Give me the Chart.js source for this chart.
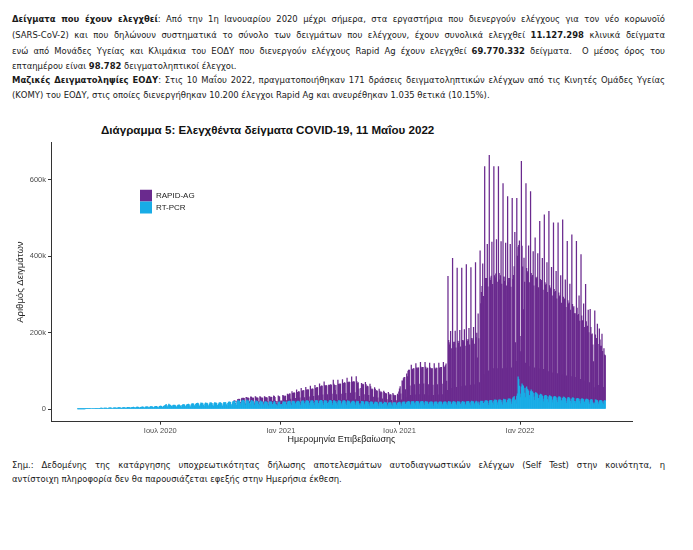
<!DOCTYPE html>
<html>
<head>
<meta charset="utf-8">
<script src="https://cdn.jsdelivr.net/npm/chart.js@4.4.1/dist/chart.umd.min.js"></script>
<style>
  body { margin: 0; width: 693px; height: 550px; position: relative; overflow: hidden; background: #fff;
         font-family: "Liberation Sans Narrow", "DejaVu Sans Condensed", sans-serif; color: #1a1a1a; }
  .ln { position: absolute; left: 12px; width: 653px; font-size: 9.4px; line-height: 14px; white-space: nowrap; }
  .jt { text-align: justify; text-align-last: justify; white-space: normal; }
  #title { position: absolute; left: 101px; top: 123px; font: bold 11.6px "Liberation Sans", Arial, sans-serif; color: #111; }
  #wrap { position: absolute; left: 0; top: 136px; width: 693px; height: 314px; }
</style>
</head>
<body>
<div class="ln jt" style="top:12px"><b>Δείγματα που έχουν ελεγχθεί</b>: Από την 1η Ιανουαρίου 2020 μέχρι σήμερα, στα εργαστήρια που διενεργούν ελέγχους για τον νέο κορωνοϊό</div>
<div class="ln jt" style="top:28px">(SARS-CoV-2) και που δηλώνουν συστηματικά το σύνολο των δειγμάτων που ελέγχουν, έχουν συνολικά ελεγχθεί <b>11.127.298</b> κλινικά δείγματα</div>
<div class="ln jt" style="top:44px">ενώ από Μονάδες Υγείας και Κλιμάκια του ΕΟΔΥ που διενεργούν ελέγχους Rapid Ag έχουν ελεγχθεί <b>69.770.332</b> δείγματα.&nbsp; Ο μέσος όρος του</div>
<div class="ln" style="top:59px">επταημέρου είναι <b>98.782</b> δειγματοληπτικοί έλεγχοι.</div>
<div class="ln jt" style="top:73px"><b>Μαζικές Δειγματοληψίες ΕΟΔΥ</b>: Στις 10 Μαΐου 2022, πραγματοποιήθηκαν 171 δράσεις δειγματοληπτικών ελέγχων από τις Κινητές Ομάδες Υγείας</div>
<div class="ln" style="top:88px">(ΚΟΜΥ) του ΕΟΔΥ, στις οποίες διενεργήθηκαν 10.200 έλεγχοι Rapid Ag και ανευρέθηκαν 1.035 θετικά (10.15%).</div>

<div id="title">Διάγραμμα 5: Ελεγχθέντα δείγματα COVID-19, 11 Μαΐου 2022</div>
<div id="wrap"><canvas id="chart"></canvas></div>

<div class="ln jt" style="top:458px">Σημ.: Δεδομένης της κατάργησης υποχρεωτικότητας δήλωσης αποτελεσμάτων αυτοδιαγνωστικών ελέγχων (Self Test) στην κοινότητα, η</div>
<div class="ln" style="top:472px">αντίστοιχη πληροφορία δεν θα παρουσιάζεται εφεξής στην Ημερήσια έκθεση.</div>

<script>
// daily samples, in thousands; each line is one week, Wednesday to Tuesday
const pcrStart = "2020-02-26";
const pcr2020 = [
  0.1, 0.1, 0.2, 0.1, 0.1, 0.2, 0.3,
  0.3, 0.4, 0.4, 0.3, 0.2, 0.5, 0.6,
  0.8, 0.9, 1.0, 0.7, 0.5, 1.1, 1.2,
  1.4, 1.5, 1.6, 1.2, 0.9, 1.5, 1.7,
  1.8, 1.9, 2.0, 1.5, 1.1, 1.8, 2.1,
  2.2, 2.4, 2.5, 1.8, 1.3, 2.3, 2.6,
  2.7, 2.8, 2.6, 1.9, 1.4, 2.5, 2.9,
  3.0, 3.1, 2.9, 2.0, 1.5, 2.8, 3.2,
  3.3, 3.4, 3.2, 2.3, 1.7, 3.1, 3.5,
  3.6, 3.5, 3.3, 2.4, 1.8, 3.4, 3.8,
  3.9, 4.1, 3.8, 2.7, 2.0, 3.6, 4.2,
  4.3, 4.5, 4.1, 3.0, 2.2, 4.0, 4.6,
  4.6, 4.8, 4.4, 3.2, 2.4, 4.2, 4.9,
  5.0, 5.2, 4.7, 3.4, 2.5, 4.5, 5.3,
  5.4, 5.6, 5.1, 3.7, 2.7, 4.9, 5.8,
  5.9, 6.1, 5.6, 4.0, 3.0, 5.2, 6.3,
  6.2, 6.5, 6.0, 4.3, 3.1, 5.6, 6.6,
  6.8, 7.0, 6.4, 4.6, 3.3, 6.0, 7.2,
  7.5, 7.8, 7.1, 5.2, 3.8, 6.9, 8.1,
  9.0, 10.5, 12.5, 8.0, 5.5, 9.8, 13.0,
  11.0, 10.2, 9.6, 7.0, 5.0, 8.9, 10.4,
  9.8, 10.1, 9.3, 6.6, 4.8, 8.8, 10.3,
  10.5, 10.9, 10.0, 7.2, 5.2, 9.4, 11.2,
  11.4, 11.8, 10.8, 7.8, 5.6, 10.3, 12.3,
  12.4, 12.9, 11.9, 8.5, 6.1, 11.2, 13.5,
  13.6, 14.2, 13.1, 9.3, 6.6, 12.4, 15.2,
  14.5, 15.3, 14.0, 9.9, 7.0, 13.1, 16.0,
  14.8, 15.5, 14.3, 10.1, 7.2, 13.5, 16.4,
  15.0, 15.8, 14.5, 10.3, 7.3, 13.7, 16.8,
  15.6, 16.3, 15.0, 10.6, 7.6, 14.1, 17.2,
  15.3, 16.0, 14.8, 10.5, 7.4, 13.9, 17.0,
  15.8, 16.6, 15.2, 10.8, 7.7, 14.3, 17.6,
  16.5, 17.4, 16.0, 11.4, 8.1, 15.1, 18.5,
  18.0, 19.0, 17.6, 12.5, 8.8, 16.6, 20.2,
  19.8, 20.8, 19.3, 13.7, 9.6, 18.1, 22.0,
  21.0, 22.1, 20.4, 14.5, 10.2, 19.4, 23.4,
  21.5, 22.6, 20.9, 14.8, 10.4, 19.6, 23.8,
  21.0, 22.0, 20.3, 14.4, 10.1, 19.0, 23.0,
  20.2, 21.2, 19.6, 13.9, 9.8, 18.3, 22.1,
  19.4, 20.3, 18.8, 13.3, 9.4, 17.6, 21.2,
  18.5, 19.4, 17.9, 12.7, 9.0, 16.8, 20.3,
  18.0, 18.9, 17.4, 12.4, 8.7, 16.3, 19.7,
  18.3, 19.2, 17.7, 12.6, 8.9, 16.6, 20.0,
  17.8, 13.0, 9.5, 12.0, 8.4, 15.8, 19.0,
  18.2, 12.5, 10.0, 12.3, 8.6, 16.0, 19.5
];
const pcr2021 = [
  17, 19, 18, 13, 9, 17, 20,
  20, 21, 20, 14, 9, 18, 21,
  20, 21, 19, 14, 9, 18, 21,
  20, 21, 19, 14, 9, 18, 21,
  21, 22, 20, 14, 9, 19, 22,
  21, 22, 20, 15, 10, 19, 22,
  21, 22, 20, 15, 10, 19, 22,
  22, 23, 21, 15, 10, 20, 23,
  22, 23, 21, 15, 10, 20, 23,
  21, 22, 20, 15, 10, 18, 22,
  22, 23, 21, 15, 10, 20, 23,
  21, 17, 20, 14, 9, 19, 22,
  21, 22, 20, 14, 9, 19, 22,
  21, 22, 20, 14, 9, 19, 22,
  20, 21, 19, 14, 9, 18, 21,
  20, 21, 19, 14, 9, 18, 21,
  19, 20, 15, 11, 8, 14, 20,
  19, 20, 19, 13, 9, 18, 20,
  18, 19, 18, 13, 8, 17, 19,
  18, 19, 17, 12, 8, 16, 19,
  17, 18, 17, 12, 8, 16, 18,
  17, 18, 16, 12, 8, 15, 18,
  16, 17, 16, 11, 7, 15, 17,
  16, 17, 16, 11, 7, 15, 17,
  16, 17, 16, 11, 7, 15, 17,
  17, 18, 17, 12, 8, 16, 18,
  18, 19, 18, 13, 8, 17, 19,
  19, 20, 19, 13, 9, 18, 20,
  19, 20, 19, 14, 9, 18, 20,
  19, 20, 19, 14, 9, 18, 20,
  19, 20, 19, 14, 9, 18, 20,
  18, 19, 18, 13, 8, 17, 19,
  18, 19, 18, 13, 8, 17, 19,
  18, 19, 18, 13, 9, 17, 19,
  18, 19, 18, 13, 9, 17, 19,
  18, 19, 18, 13, 9, 17, 20,
  18, 19, 18, 13, 9, 17, 20,
  18, 19, 18, 13, 9, 17, 20,
  18, 19, 18, 13, 9, 17, 20,
  18, 19, 18, 13, 9, 18, 20,
  19, 20, 19, 14, 9, 18, 21,
  19, 20, 19, 14, 9, 18, 21,
  19, 14, 19, 14, 9, 18, 21,
  20, 21, 20, 15, 10, 19, 22,
  21, 22, 21, 15, 10, 20, 23,
  22, 23, 22, 16, 11, 21, 24,
  23, 24, 23, 17, 11, 22, 25,
  23, 24, 23, 17, 11, 22, 26,
  24, 25, 24, 17, 12, 23, 27,
  26, 27, 26, 19, 13, 25, 29,
  30, 33, 22, 24, 15, 34, 40,
  84, 78, 60, 40, 30, 58, 66
];
const pcr2022 = [
  62, 60, 55, 42, 30, 55, 58,
  52, 50, 47, 36, 26, 46, 50,
  46, 45, 42, 32, 23, 41, 44,
  41, 40, 37, 28, 20, 36, 39,
  38, 37, 34, 26, 19, 33, 36,
  36, 35, 33, 25, 18, 32, 35,
  34, 33, 31, 24, 17, 30, 33,
  33, 32, 30, 23, 17, 29, 32,
  32, 31, 29, 22, 16, 28, 31,
  31, 30, 28, 21, 15, 27, 30,
  30, 29, 27, 21, 15, 27, 29,
  29, 28, 20, 20, 15, 26, 28,
  28, 27, 26, 20, 14, 25, 27,
  27, 26, 25, 19, 14, 24, 26,
  26, 25, 24, 18, 13, 23, 25,
  25, 24, 18, 14, 11, 16, 24,
  24, 23, 22, 17, 12, 21, 23,
  23, 22, 21, 16, 12, 21, 22,
  22
];

const rapidStart = "2020-10-21";
const rapid2020 = [
  1, 1, 2, 1, 1, 3, 3,
  4, 4, 5, 3, 2, 8, 5,
  6, 6, 7, 4, 3, 11, 7,
  7, 7, 8, 5, 3, 13, 8,
  8, 8, 9, 5, 4, 14, 9,
  9, 9, 10, 6, 4, 15, 10,
  10, 10, 11, 6, 4, 16, 11,
  11, 11, 12, 7, 5, 17, 12,
  12, 12, 13, 8, 5, 18, 13,
  13, 8, 5, 8, 5, 19, 14,
  14, 9, 6, 9, 6, 20, 15
];
const rapid2021 = [
  14, 15, 16, 10, 6, 22, 16,
  18, 19, 20, 12, 7, 28, 20,
  21, 22, 23, 14, 8, 32, 23,
  24, 25, 26, 15, 9, 36, 26,
  26, 27, 28, 16, 9, 38, 28,
  28, 29, 30, 17, 10, 41, 30,
  30, 31, 32, 18, 10, 43, 32,
  33, 34, 35, 20, 11, 46, 35,
  37, 38, 39, 22, 12, 51, 39,
  39, 40, 41, 23, 13, 45, 41,
  40, 41, 42, 24, 13, 56, 42,
  41, 32, 42, 24, 13, 57, 43,
  43, 44, 45, 25, 14, 58, 45,
  46, 47, 48, 27, 15, 62, 48,
  49, 50, 51, 28, 16, 66, 50,
  50, 51, 52, 29, 16, 67, 51,
  48, 49, 38, 22, 12, 40, 47,
  44, 45, 45, 25, 14, 52, 44,
  40, 41, 41, 23, 13, 48, 40,
  33, 34, 34, 19, 11, 40, 33,
  29, 30, 30, 17, 10, 36, 29,
  26, 27, 27, 15, 9, 32, 26,
  23, 24, 24, 14, 8, 29, 23,
  20, 21, 21, 12, 7, 26, 20,
  18, 19, 19, 11, 7, 24, 19,
  28, 35, 42, 28, 16, 58, 55,
  62, 64, 65, 38, 22, 75, 66,
  80, 82, 83, 48, 27, 97, 84,
  84, 86, 87, 50, 28, 101, 88,
  86, 88, 89, 51, 29, 104, 90,
  87, 89, 90, 52, 29, 104, 90,
  86, 88, 89, 51, 27, 103, 89,
  85, 87, 88, 50, 28, 102, 88,
  86, 88, 89, 51, 28, 103, 89,
  88, 90, 91, 52, 29, 105, 91,
  92, 95, 100, 60, 40, 330, 160,
  150, 155, 185, 145, 45, 377, 155,
  152, 156, 186, 147, 48, 352, 158,
  154, 158, 188, 150, 50, 352, 160,
  156, 160, 190, 152, 52, 360, 162,
  158, 162, 192, 154, 54, 352, 164,
  160, 164, 195, 156, 55, 365, 166,
  180, 120, 230, 170, 60, 396, 255,
  285, 300, 360, 280, 80, 615, 320,
  310, 320, 410, 305, 90, 644, 320,
  315, 325, 415, 310, 95, 613, 325,
  320, 330, 420, 315, 95, 612, 330,
  315, 325, 415, 310, 95, 568, 320,
  310, 320, 410, 305, 95, 533, 315,
  305, 315, 405, 300, 95, 526, 310,
  320, 340, 440, 150, 110, 517, 360,
  340, 350, 380, 150, 120, 590, 360
];
const rapid2022 = [
  310, 200, 340, 290, 90, 535, 310,
  305, 310, 380, 295, 85, 523, 305,
  300, 305, 370, 290, 85, 407, 300,
  300, 305, 370, 290, 85, 455, 300,
  295, 300, 360, 285, 85, 475, 295,
  288, 292, 350, 280, 80, 485, 288,
  280, 284, 340, 272, 78, 457, 280,
  272, 276, 330, 265, 76, 458, 272,
  262, 266, 320, 255, 74, 467, 262,
  254, 258, 310, 245, 72, 412, 254,
  245, 249, 300, 238, 70, 429, 245,
  236, 240, 230, 230, 68, 413, 236,
  217, 221, 270, 210, 64, 379, 217,
  203, 206, 250, 195, 60, 302, 203,
  189, 192, 235, 182, 56, 238, 189,
  170, 173, 150, 110, 45, 241, 170,
  160, 162, 200, 152, 50, 189, 158,
  142, 143, 175, 135, 45, 137, 120,
  118
];

const seriesNames = ["RT-PCR", "RAPID-AG"];
const seriesColors = ["#18ace6", "#6a2a8e"];
const xTickDates = ["2020-07-01", "2021-01-01", "2021-07-01", "2022-01-01"];
const xTickLabels = ["Ιουλ 2020", "Ιαν 2021", "Ιουλ 2021", "Ιαν 2022"];
const yTickValues = [0, 200, 400, 600];

function dayIndex(iso) {
  const [y, m, d] = iso.split("-").map(Number);
  return (Date.UTC(y, m - 1, d) - Date.UTC(2020, 0, 1)) / 86400000;
}

function toPoints(start, values) {
  const d0 = dayIndex(start);
  return values.map((v, i) => ({ x: d0 + i, y: v }));
}

const pcrPoints = toPoints(pcrStart, pcr2020.concat(pcr2021, pcr2022));
const rapidPoints = toPoints(rapidStart, rapid2020.concat(rapid2021, rapid2022));

// totals per day, to size the value axis like ggplot's 5% expansion
const totals = {};
pcrPoints.concat(rapidPoints).forEach(p => { totals[p.x] = (totals[p.x] || 0) + p.y; });
const maxTotal = Math.max(...Object.values(totals));
const firstDay = pcrPoints[0].x, lastDay = pcrPoints[pcrPoints.length - 1].x;
const xPad = 0.05 * (lastDay - firstDay + 1);
const tickDays = xTickDates.map(dayIndex);

Chart.defaults.font.family = '"Liberation Sans", Arial, sans-serif';

const legendSpot = {
  id: "legendSpot",
  afterLayout(chart) {
    const lg = chart.legend, a = chart.chartArea;
    const w = lg.width, h = lg.height;
    lg.left = a.left + 89;
    lg.top = a.top + 47;
    lg.right = lg.left + w;
    lg.bottom = lg.top + h;
  }
};

new Chart(document.getElementById("chart"), {
  type: "bar",
  data: {
    datasets: [
      { label: seriesNames[0], data: pcrPoints, backgroundColor: seriesColors[0] },
      { label: seriesNames[1], data: rapidPoints, backgroundColor: seriesColors[1] }
    ]
  },
  options: {
    animation: false,
    responsive: true,
    maintainAspectRatio: false,
    layout: { padding: { top: 4.6, right: 61, bottom: 0, left: 0 } },
    datasets: { bar: { barPercentage: 1, categoryPercentage: 1, borderWidth: 0, inflateAmount: 0.3 } },
    plugins: {
      tooltip: { enabled: false },
      legend: {
        position: "chartArea",
        align: "start",
        reverse: true,
        labels: { boxWidth: 12, boxHeight: 12, padding: 0, color: "#222", font: { size: 8 } }
      }
    },
    scales: {
      x: {
        type: "linear",
        stacked: true,
        offset: false,
        min: firstDay - 0.5 - xPad,
        max: lastDay + 0.5 + xPad,
        afterBuildTicks: s => { s.ticks = tickDays.map(v => ({ value: v })); },
        afterFit: s => { s.height = 28.3; },
        ticks: {
          autoSkip: false, maxRotation: 0, padding: 2, color: "#4d4d4d", font: { size: 7.5 },
          callback: v => { const i = tickDays.indexOf(v); return i >= 0 ? xTickLabels[i] : ""; }
        },
        grid: { offset: false, drawOnChartArea: false, tickLength: 3, color: "#333" },
        border: { color: "#333", width: 1 },
        title: { display: true, text: "Ημερομηνία Επιβεβαίωσης", color: "#222", font: { size: 9 }, padding: { top: 0, bottom: 4.6 } }
      },
      y: {
        stacked: true,
        min: -0.05 * maxTotal,
        max: 1.05 * maxTotal,
        afterBuildTicks: s => { s.ticks = yTickValues.map(v => ({ value: v })); },
        afterFit: s => { s.width = 51; },
        ticks: {
          padding: 2, color: "#4d4d4d", font: { size: 7.5 },
          callback: v => v === 0 ? "0" : v + "k"
        },
        grid: { drawOnChartArea: false, tickLength: 3, color: "#333" },
        border: { color: "#333", width: 1 },
        title: { display: true, text: "Αριθμός Δειγμάτων", color: "#222", font: { size: 9.5 }, padding: { top: 14.3, bottom: 0 } }
      }
    }
  },
  plugins: [legendSpot]
});
</script>
</body>
</html>
